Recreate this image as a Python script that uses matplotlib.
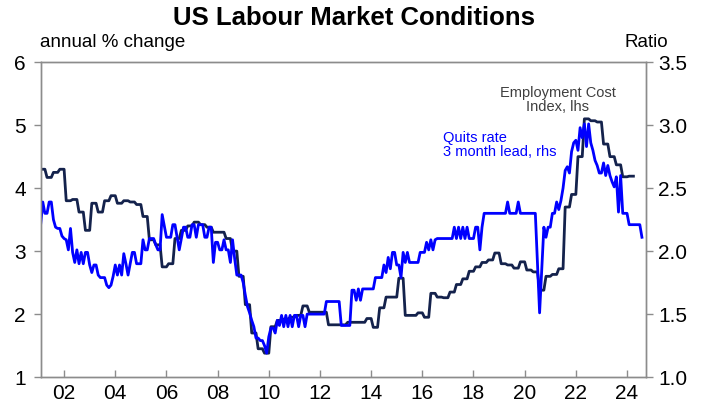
import matplotlib
matplotlib.use("Agg")
import matplotlib.pyplot as plt
import numpy as np

plt.rcParams['font.family'] = ['Liberation Sans', 'DejaVu Sans']

# Employment Cost Index, annual % change, quarterly (2001Q1 .. 2024Q1), lhs
eci_quarterly = [
    4.3, 4.17, 4.25, 4.3,
    3.8, 3.82, 3.62, 3.33,
    3.76, 3.62, 3.8, 3.88,
    3.76, 3.8, 3.78, 3.74,
    3.55, 3.18, 3.1, 2.75,
    2.8, 3.2, 3.33, 3.4,
    3.46, 3.42, 3.38, 3.3,
    3.3, 3.2, 3.0, 2.6,
    2.15, 1.7, 1.45, 1.38,
    1.8, 1.9, 1.92, 1.95,
    1.98, 2.13, 2.03, 2.03,
    2.03, 1.83, 1.83, 1.83,
    1.87, 1.87, 1.87, 1.93,
    1.79, 2.1, 2.27, 2.27,
    2.57, 1.98, 1.98, 2.02,
    1.95, 2.33, 2.27, 2.26,
    2.35, 2.47, 2.56, 2.68,
    2.75, 2.82, 2.86, 2.97,
    2.8, 2.78, 2.73, 2.83,
    2.7, 2.67, 2.38, 2.6,
    2.63, 2.72, 3.7, 3.9,
    4.5, 5.1, 5.07, 5.05,
    4.7, 4.5, 4.37, 4.18,
    4.19,
]

# Quits rate, 3 month lead, monthly (Feb 2001 .. Aug 2024), rhs
quits_2001 = [2.21, 2.39, 2.3, 2.3, 2.39, 2.39, 2.25, 2.19, 2.18, 2.18, 2.12]
quits_2002 = [2.1, 2.09, 2.01, 2.18, 1.99, 1.91, 2.01, 1.9, 1.99, 1.9, 1.99, 1.99]
quits_2003 = [1.89, 1.83, 1.89, 1.89, 1.81, 1.79, 1.79, 1.79, 1.73, 1.71, 1.73, 1.8]
quits_2004 = [1.89, 1.81, 1.89, 1.81, 1.98, 1.9, 1.81, 1.9, 1.99, 1.99, 1.9, 1.9]
quits_2005 = [1.9, 2.09, 2.01, 2.01, 2.1, 2.1, 2.1, 2.05, 2.01, 2.01, 2.29, 2.2]
quits_2006 = [2.11, 2.11, 2.11, 2.21, 2.21, 2.11, 2.01, 2.1, 2.19, 2.19, 2.11, 2.11]
quits_2007 = [2.21, 2.21, 2.11, 2.21, 2.21, 2.21, 2.11, 2.11, 2.19, 2.19, 1.91, 2.07]
quits_2008 = [2.07, 2.01, 2.01, 2.09, 2.01, 2.01, 1.91, 2.09, 1.94, 1.81, 1.81, 1.81]
quits_2009 = [1.75, 1.65, 1.56, 1.51, 1.45, 1.4, 1.31, 1.31, 1.29, 1.29, 1.25, 1.19]
quits_2010 = [1.32, 1.39, 1.39, 1.35, 1.45, 1.41, 1.49, 1.4, 1.49, 1.4, 1.49, 1.4]
quits_2011 = [1.49, 1.49, 1.4, 1.49, 1.49, 1.4, 1.5, 1.5, 1.5, 1.5, 1.5, 1.5]
quits_2012 = [1.5, 1.5, 1.5, 1.6, 1.6, 1.6, 1.6, 1.6, 1.6, 1.6, 1.41, 1.41]
quits_2013 = [1.41, 1.41, 1.41, 1.69, 1.69, 1.61, 1.7, 1.61, 1.7, 1.7, 1.7, 1.7]
quits_2014 = [1.7, 1.7, 1.79, 1.79, 1.79, 1.79, 1.89, 1.83, 1.95, 1.86, 1.99, 1.99]
quits_2015 = [1.89, 1.89, 1.79, 1.99, 1.91, 1.99, 1.91, 1.91, 1.91, 1.91, 1.91, 1.99]
quits_2016 = [1.99, 1.99, 2.07, 2.01, 2.09, 2.01, 2.09, 2.1, 2.1, 2.1, 2.1, 2.1]
quits_2017 = [2.1, 2.1, 2.1, 2.19, 2.1, 2.19, 2.1, 2.19, 2.1, 2.19, 2.1, 2.1]
quits_2018 = [2.1, 2.19, 2.19, 2.01, 2.19, 2.3, 2.3, 2.3, 2.3, 2.3, 2.3, 2.3]
quits_2019 = [2.3, 2.3, 2.3, 2.3, 2.39, 2.3, 2.3, 2.3, 2.3, 2.39, 2.3, 2.3]
quits_2020 = [2.3, 2.3, 2.3, 2.3, 2.3, 2.3, 1.9, 1.51, 1.85, 2.19, 2.11, 2.19]
quits_2021 = [2.19, 2.3, 2.3, 2.39, 2.33, 2.4, 2.5, 2.64, 2.67, 2.62, 2.79, 2.86]
quits_2022 = [2.88, 2.8, 2.98, 2.9, 3.01, 2.83, 3.01, 2.86, 2.8, 2.72, 2.68, 2.62]
quits_2023 = [2.62, 2.7, 2.6, 2.68, 2.6, 2.55, 2.51, 2.59, 2.31, 2.6, 2.3, 2.3]
quits_2024 = [2.3, 2.21, 2.21, 2.21, 2.21, 2.21, 2.21, 2.11]

quits = np.concatenate([
    quits_2001, quits_2002, quits_2003, quits_2004, quits_2005, quits_2006,
    quits_2007, quits_2008, quits_2009, quits_2010, quits_2011, quits_2012,
    quits_2013, quits_2014, quits_2015, quits_2016, quits_2017, quits_2018,
    quits_2019, quits_2020, quits_2021, quits_2022, quits_2023, quits_2024,
])
quits_dates = 2001 + 1 / 12 + np.arange(len(quits)) / 12

# quarterly ECI held for the three months of each quarter
eci = np.repeat(eci_quarterly, 3)
eci_dates = 2001 + 1 / 12 + np.arange(len(eci)) / 12

navy = '#14224c'
blue = '#0000ff'
grey = '#8c8c8c'

fig = plt.figure(figsize=(7.08, 4.09), dpi=100)
ax = fig.add_axes([0.058, 0.078, 0.854, 0.770])
ax2 = ax.twinx()

ax.plot(eci_dates, eci, color=navy, linewidth=2.0, solid_joinstyle='round')
ax2.plot(quits_dates, quits, color=blue, linewidth=2.0, solid_joinstyle='round')

ax.set_xlim(2001.1, 2024.73)
ax.set_ylim(1, 6)
ax2.set_ylim(1.0, 3.5)

ax.set_yticks([1, 2, 3, 4, 5, 6])
ax2.set_yticks([1.0, 1.5, 2.0, 2.5, 3.0, 3.5])
ax2.set_yticklabels(['1.0', '1.5', '2.0', '2.5', '3.0', '3.5'])
years = np.arange(2002, 2025, 2)
ax.set_xticks(years)
ax.set_xticklabels([f'{y % 100:02d}' for y in years])

for a in (ax, ax2):
    for s in a.spines.values():
        s.set_color(grey)
        s.set_linewidth(1.0)

ax.tick_params(axis='y', direction='out', length=5, width=1, color=grey,
               labelsize=15, pad=6)
ax2.tick_params(axis='y', direction='out', length=5, width=1, color=grey,
                labelsize=15, pad=4)
ax.tick_params(axis='x', direction='in', length=5, width=1, color=grey,
               labelsize=15, pad=5)

fig.text(0.5, 0.955, 'US Labour Market Conditions', ha='center', va='center',
         fontsize=18.5, fontweight='bold')
fig.text(0.056, 0.897, 'annual % change', ha='left', va='center', fontsize=13.5)
fig.text(0.944, 0.897, 'Ratio', ha='right', va='center', fontsize=13.5)

ax.text(2021.3, 5.4, 'Employment Cost\nIndex, lhs', ha='center', va='center',
        fontsize=10.5, color='#3f3f3f', linespacing=1.0)
ax2.text(2016.8, 2.84, 'Quits rate\n3 month lead, rhs', ha='left', va='center',
         fontsize=10.5, color=blue, linespacing=1.0)

fig.savefig('out.png', dpi=100)
